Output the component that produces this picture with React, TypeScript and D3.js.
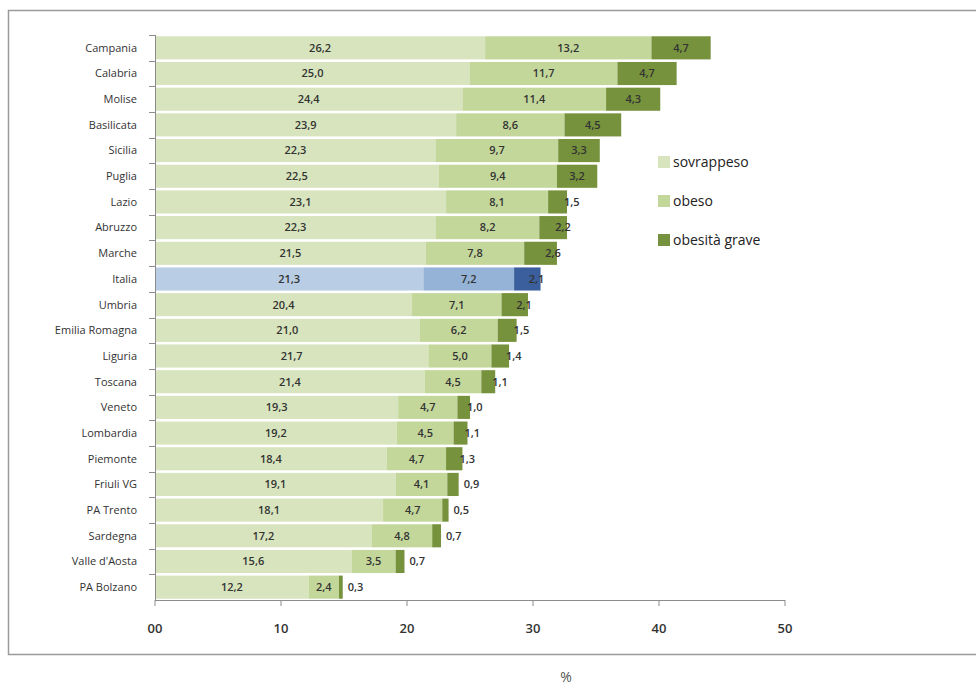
import React, { useRef, useEffect } from "react";
import * as d3 from "d3";

const regions = [
  "Campania", "Calabria", "Molise", "Basilicata", "Sicilia", "Puglia", "Lazio",
  "Abruzzo", "Marche", "Italia", "Umbria", "Emilia Romagna", "Liguria", "Toscana",
  "Veneto", "Lombardia", "Piemonte", "Friuli VG", "PA Trento", "Sardegna",
  "Valle d'Aosta", "PA Bolzano",
];
const sovrappeso = [26.2, 25.0, 24.4, 23.9, 22.3, 22.5, 23.1, 22.3, 21.5, 21.3, 20.4, 21.0, 21.7, 21.4, 19.3, 19.2, 18.4, 19.1, 18.1, 17.2, 15.6, 12.2];
const obeso = [13.2, 11.7, 11.4, 8.6, 9.7, 9.4, 8.1, 8.2, 7.8, 7.2, 7.1, 6.2, 5.0, 4.5, 4.7, 4.5, 4.7, 4.1, 4.7, 4.8, 3.5, 2.4];
const grave = [4.7, 4.7, 4.3, 4.5, 3.3, 3.2, 1.5, 2.2, 2.6, 2.1, 2.1, 1.5, 1.4, 1.1, 1.0, 1.1, 1.3, 0.9, 0.5, 0.7, 0.7, 0.3];
const seriesNames = ["sovrappeso", "obeso", "obesità grave"];
const xTicks = [0, 10, 20, 30, 40, 50];

const greenColors = ["#d7e4bd", "#c4d79b", "#76923c"];
const blueColors = ["#b9cde5", "#95b3d7", "#3a5f9c"];

const W = 976;
const H = 686;

const App = () => {
  const svgRef = useRef<SVGSVGElement | null>(null);

  useEffect(() => {
    const svg = d3.select(svgRef.current);
    svg.selectAll("*").remove();
    const font = "'Open Sans', 'DejaVu Sans', sans-serif";

    // frame
    svg
      .append("rect")
      .attr("x", 8.5)
      .attr("y", 10.5)
      .attr("width", W + 20)
      .attr("height", 644)
      .attr("fill", "white")
      .attr("stroke", "#9a9a9a")
      .attr("stroke-width", 1.5);

    const x = d3.scaleLinear().domain([0, 50]).range([155, 785]);
    const y = d3
      .scaleBand()
      .domain(regions)
      .range([35, 600])
      .paddingInner(0.1)
      .paddingOuter(0.05);

    const rows = regions.map((r, i) => ({ r, vals: [sovrappeso[i], obeso[i], grave[i]] }));

    rows.forEach((row) => {
      const cols = row.r === "Italia" ? blueColors : greenColors;
      let acc = 0;
      row.vals.forEach((v, k) => {
        const x0 = x(acc);
        const x1 = x(acc + v);
        svg
          .append("rect")
          .attr("x", x0)
          .attr("y", y(row.r)!)
          .attr("width", x1 - x0)
          .attr("height", y.bandwidth())
          .attr("fill", cols[k]);

        let lx = (x0 + x1) / 2;
        let anchor = "middle";
        if (k === 2) {
          if (v < 1) {
            lx = x1 + 5;
            anchor = "start";
          } else if (v < 2) {
            lx = x1 - 3;
            anchor = "start";
          } else if (v < 3) {
            lx = Math.max((x0 + x1) / 2, x1 - 4);
          }
        }
        svg
          .append("text")
          .attr("x", lx)
          .attr("y", y(row.r)! + y.bandwidth() / 2)
          .attr("dy", "0.35em")
          .attr("text-anchor", anchor)
          .style("font-family", font)
          .style("font-size", "11px")
          .style("font-weight", 600)
          .style("fill", "#333")
          .text(v.toFixed(1).replace(".", ","));
        acc += v;
      });
    });

    // y axis
    const axisColor = "#8c8c8c";
    svg
      .append("line")
      .attr("x1", 155.5)
      .attr("x2", 155.5)
      .attr("y1", 35)
      .attr("y2", 600)
      .attr("stroke", axisColor);
    const step = y.step();
    regions.forEach((r) => {
      const yy = Math.round(y(r)! - (step - y.bandwidth()) / 2) + 0.5;
      svg
        .append("line")
        .attr("x1", 149)
        .attr("x2", 155)
        .attr("y1", yy)
        .attr("y2", yy)
        .attr("stroke", axisColor);
      svg
        .append("text")
        .attr("x", 137)
        .attr("y", y(r)! + y.bandwidth() / 2)
        .attr("dy", "0.35em")
        .attr("text-anchor", "end")
        .style("font-family", font)
        .style("font-size", "11px")
        .style("fill", "#333")
        .text(r);
    });

    // x axis
    svg
      .append("line")
      .attr("x1", 155)
      .attr("x2", 785)
      .attr("y1", 600.5)
      .attr("y2", 600.5)
      .attr("stroke", axisColor);
    xTicks.forEach((t) => {
      svg
        .append("line")
        .attr("x1", x(t))
        .attr("x2", x(t))
        .attr("y1", 600)
        .attr("y2", 606)
        .attr("stroke", axisColor);
      svg
        .append("text")
        .attr("x", x(t))
        .attr("y", 633)
        .attr("text-anchor", "middle")
        .style("font-family", font)
        .style("font-size", "13px")
        .style("font-weight", 600)
        .style("fill", "#333")
        .text(t === 0 ? "00" : String(t));
    });

    svg
      .append("text")
      .attr("x", 566)
      .attr("y", 682)
      .attr("text-anchor", "middle")
      .style("font-family", font)
      .style("font-size", "14px")
      .style("fill", "#555")
      .text("%");

    // legend
    const legendY = [162, 201, 240];
    seriesNames.forEach((name, i) => {
      svg
        .append("rect")
        .attr("x", 658)
        .attr("y", legendY[i] - 6)
        .attr("width", 12)
        .attr("height", 12)
        .attr("fill", greenColors[i]);
      svg
        .append("text")
        .attr("x", 673)
        .attr("y", legendY[i])
        .attr("dy", "0.35em")
        .style("font-family", font)
        .style("font-size", "14px")
        .style("fill", "#222")
        .text(name);
    });
  }, []);

  return (
    <svg
      ref={svgRef}
      width={W}
      height={H}
      style={{ position: "absolute", left: 0, top: 0, background: "white" }}
    ></svg>
  );
};

export default App;
